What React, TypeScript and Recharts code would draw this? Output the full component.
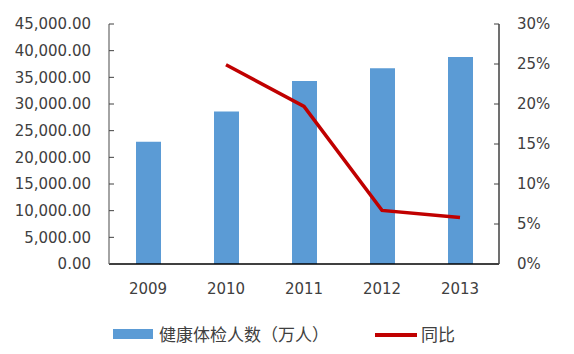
import React from 'react';
import { ComposedChart, Bar, Line, XAxis, YAxis, Legend } from 'recharts';

const years = ['2009', '2010', '2011', '2012', '2013'];
const examinees = [22900, 28600, 34300, 36700, 38800];
const yoy: (number | null)[] = [null, 0.249, 0.197, 0.067, 0.058];
const leftTicks = [0, 5000, 10000, 15000, 20000, 25000, 30000, 35000, 40000, 45000];
const rightTicks = [0, 0.05, 0.1, 0.15, 0.2, 0.25, 0.3];

const barName = '健康体检人数（万人）';
const lineName = '同比';

const data = years.map((y, i) => ({ year: y, count: examinees[i], yoy: yoy[i] }));

const tickStyle = { fontFamily: 'DejaVu Sans', fontSize: 15, fill: '#404040' };

const fmtLeft = (v: number) =>
  v.toLocaleString('en-US', { minimumFractionDigits: 2, maximumFractionDigits: 2 });
const fmtRight = (v: number) => `${Math.round(v * 100)}%`;

const LegendContent = () => (
  <div style={{ position: 'relative', width: 574, height: 50, fontFamily: 'Noto Sans CJK SC', fontSize: 17, color: '#404040' }}>
    <div style={{ position: 'absolute', left: 113, top: 25, width: 40, height: 10, background: '#5B9BD5' }} />
    <div style={{ position: 'absolute', left: 159, top: 18, lineHeight: '24px', whiteSpace: 'nowrap' }}>{barName}</div>
    <div style={{ position: 'absolute', left: 375, top: 29, width: 42, height: 4, background: '#C00000' }} />
    <div style={{ position: 'absolute', left: 421, top: 18, lineHeight: '24px', whiteSpace: 'nowrap' }}>{lineName}</div>
  </div>
);

export default function App() {
  return (
    <div style={{ position: 'absolute', left: 0, top: 0, width: 574, height: 354, background: '#fff' }}>
      <ComposedChart width={574} height={354} data={data} margin={{ top: 24, right: 0, bottom: 0, left: 0 }}>
        <XAxis
          dataKey="year"
          tickLine={false}
          tickSize={0}
          tickMargin={19}
          height={40}
          axisLine={{ stroke: '#000', strokeWidth: 1.5 }}
          tick={tickStyle}
        />
        <YAxis
          yAxisId="left"
          orientation="left"
          width={109}
          domain={[0, 45000]}
          ticks={leftTicks}
          tickFormatter={fmtLeft}
          tickSize={-5}
          tickMargin={23}
          interval={0}
          axisLine={{ stroke: '#868686', strokeWidth: 1.5 }}
          tickLine={{ stroke: '#404040' }}
          tick={tickStyle}
        />
        <YAxis
          yAxisId="right"
          orientation="right"
          width={75}
          domain={[0, 0.3]}
          ticks={rightTicks}
          tickFormatter={fmtRight}
          tickSize={-5}
          tickMargin={23}
          interval={0}
          axisLine={{ stroke: '#404040', strokeWidth: 1.5 }}
          tickLine={{ stroke: '#404040' }}
          tick={{ ...tickStyle, textAnchor: 'start' }}
        />
        <Legend
          verticalAlign="bottom"
          align="left"
          content={<LegendContent />}
          wrapperStyle={{ left: 0, width: 574, height: 50 }}
        />
        <Bar yAxisId="left" dataKey="count" name={barName} fill="#5B9BD5" barSize={25} isAnimationActive={false} />
        <Line
          yAxisId="right"
          dataKey="yoy"
          name={lineName}
          stroke="#C00000"
          strokeWidth={3.5}
          dot={false}
          activeDot={false}
          connectNulls={false}
          isAnimationActive={false}
        />
      </ComposedChart>
    </div>
  );
}
